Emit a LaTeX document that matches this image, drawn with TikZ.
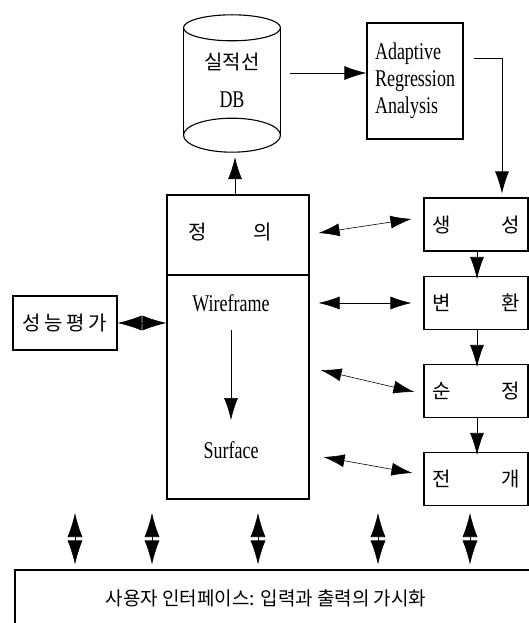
\documentclass[tikz,border=0pt]{standalone}
\usepackage{fontspec}
\setmainfont[FakeStretch=0.75]{Liberation Serif}
\newfontfamily\kr{Noto Sans CJK KR}
\usetikzlibrary{arrows.meta}

\tikzset{
  plainbox/.style={draw, line width=1.1pt, inner sep=0pt},
  onearrow/.style={-{Latex[length=22pt,width=14pt]}, line width=0.6pt},
  twoarrow/.style={{Latex[length=21pt,width=13pt]}-{Latex[length=21pt,width=13pt]}, line width=0.6pt},
  bigtwo/.style={{Latex[length=24pt,width=15pt]}-{Latex[length=24pt,width=15pt]}, line width=0.6pt},
  hang/.style={font=\kr\fontsize{20}{22}\selectfont},
  eng/.style={font=\fontsize{24}{27}\selectfont}
}

\begin{document}
\begin{tikzpicture}[x=1pt,y=-1pt]
\useasboundingbox (0,0) rectangle (529,623);
\clip (0,0) rectangle (529,623);

\node[name=db, minimum width=97pt, minimum height=107pt, inner sep=0pt] at (232,81.5) {};
\draw[line width=1.1pt] (db.north west) -- (db.south west) (db.north east) -- (db.south east);
\draw[line width=1.1pt] (db.north) ellipse [x radius=48.5, y radius=13];
\draw[line width=1.1pt] (db.south) ellipse [x radius=48.5, y radius=17];
\node[name=dbname, hang] at (232,62) {실적선};
\node[name=dbtag, eng] at (232,100) {DB};

\node[name=arabox, plainbox, minimum width=96pt, minimum height=116pt, align=left, eng] at (415,81) {Adaptive\\Regression\\Analysis};

\node[name=defbox, plainbox, minimum width=142pt, minimum height=80pt] at (238,235) {};
\node[name=geombox, plainbox, minimum width=142pt, minimum height=224pt] at (238,387) {};
\node[name=deftext, hang] at (230,232) {정\hspace{46pt}의};
\node[name=wire, eng] at (231,303) {Wireframe};
\node[name=surf, eng] at (231,450) {Surface};

\foreach \nm/\yy/\first/\second in {genbox/224.5/생/성, trnbox/303/변/환, refbox/391/순/정, devbox/479/전/개}
  \node[name=\nm, plainbox, minimum width=104pt, minimum height=53pt, hang] at (476,\yy) {\first\hspace{51pt}\second};

\node[name=evalbox, plainbox, minimum width=104pt, minimum height=54pt, hang] at (65,323) {성\hspace{3.5pt}능\hspace{3.5pt}평\hspace{3.5pt}가};

\node[name=uibox, plainbox, minimum width=530pt, minimum height=70pt] at (280,605) {};
\node[name=uitext, font=\kr\fontsize{19}{21}\selectfont] at (266,598) {사용자 인터페이스: 입력과 출력의 가시화};

\draw[onearrow] ([shift={(9.5,-8.5)}]db.east) -- ([shift={(0,-8)}]arabox.west);
\draw[onearrow] ([shift={(10,-23)}]arabox.east) -| ([shift={(26,-4)}]genbox.north);
\draw[onearrow] ([shift={(-3,0)}]defbox.north) -- ([shift={(3,22)}]db.south);
\draw[onearrow, shorten <=27pt, shorten >=30pt] (wire.center) -- (surf.center);
\foreach \a/\b in {genbox/trnbox, trnbox/refbox, refbox/devbox}
  \draw[onearrow, shorten >=-3pt] ([xshift=1pt]\a.south) -- ([xshift=1pt]\b.north);

\draw[twoarrow] ([shift={(9,-2)}]defbox.east) -- ([shift={(-12,-5.5)}]genbox.west);
\draw[twoarrow, shorten <=9pt, shorten >=12pt] (geombox.east |- trnbox.west) -- (trnbox.west);
\draw[twoarrow] ([shift={(11,-17)}]geombox.east) -- ([shift={(-9,1)}]refbox.west);
\draw[twoarrow] ([shift={(14,70)}]geombox.east) -- ([shift={(-11,-6)}]devbox.west);
\draw[bigtwo] (evalbox.east) -- (evalbox.east -| geombox.west);

\foreach \x in {75,152,258,378,470}
  \draw[bigtwo, shorten >=5pt] (\x,513) -- (\x,0 |- uibox.north);
\end{tikzpicture}
\end{document}
